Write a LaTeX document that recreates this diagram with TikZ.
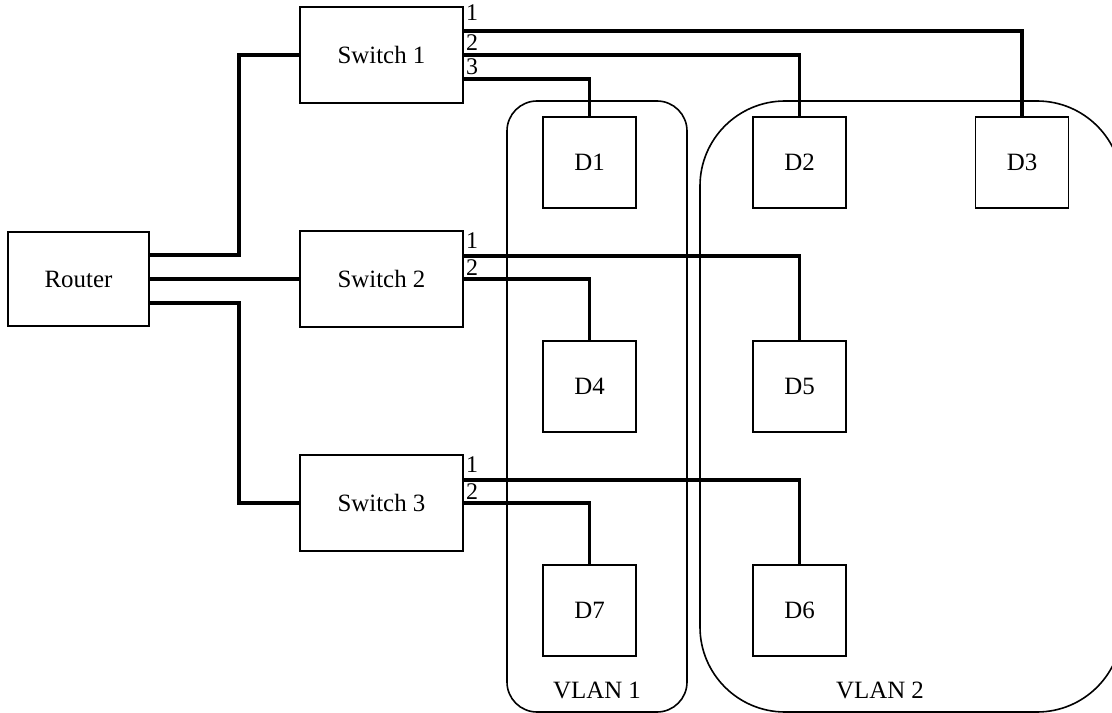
\documentclass[tikz,border=0pt]{standalone}
\usepackage{fontspec}
\setmainfont{Liberation Serif}
\usetikzlibrary{calc}
\begin{document}
\begin{tikzpicture}[x=1bp,y=-1bp,
  box/.style={draw,line width=1.6bp,rectangle,inner sep=0pt,font=\fontsize{25}{29}\selectfont},
  swbox/.style={box,minimum width=163bp,minimum height=96bp},
  dev/.style={box,minimum width=93bp,minimum height=91bp},
  wire/.style={line width=3.6bp},
  vlan/.style={draw,line width=1.6bp},
  port/.style={inner sep=0pt,anchor=west,font=\fontsize{24}{28}\selectfont},
  vlab/.style={inner sep=0pt,font=\fontsize{25}{29}\selectfont}]
\useasboundingbox (0,0) rectangle (1112,713);
\clip (0,0) rectangle (1112,713);
% VLAN areas
\draw[vlan,rounded corners=30bp] (507,101) rectangle (687,712);
\draw[vlan,rounded corners=85bp] (700,101) rectangle (1122,712);
\node[vlab] (v1) at (597,690) {VLAN 1};
\node[vlab] (v2) at (880,690) {VLAN 2};
% nodes
\node[box,minimum width=141bp,minimum height=94bp] (r) at (78.5,279) {Router};
\node[swbox] (s1) at (381.5,55) {Switch 1};
\node[swbox] (s2) at (381.5,279) {Switch 2};
\node[swbox] (s3) at (381.5,503) {Switch 3};
\node[dev] (d1) at (589.5,162.5) {D1};
\node[dev] (d2) at (799.5,162.5) {D2};
\node[dev] (d3) at (1022,162.5) {D3};
\node[dev] (d4) at (589.5,386.5) {D4};
\node[dev] (d5) at (799.5,386.5) {D5};
\node[dev] (d7) at (589.5,610.5) {D7};
\node[dev] (d6) at (799.5,610.5) {D6};
% router links
\draw[wire] ($(r.east)+(0,-24)$) -- ++(89,0) |- (s1.west);
\draw[wire] (r.east) -- (s2.west);
\draw[wire] ($(r.east)+(0,24)$) -- ++(89,0) |- (s3.west);
% switch 1 ports
\draw[wire] ($(s1.east)+(0,-24)$) -| (d3.north);
\draw[wire] (s1.east) -| (d2.north);
\draw[wire] ($(s1.east)+(0,24)$) -| (d1.north);
\node[port] (p11) at ($(s1.east)+(2,-42)$) {1};
\node[port] (p12) at ($(s1.east)+(2,-12)$) {2};
\node[port] (p13) at ($(s1.east)+(2,12)$) {3};
% switch 2 ports
\draw[wire] ($(s2.east)+(0,-23)$) -| (d5.north);
\draw[wire] (s2.east) -| (d4.north);
\node[port] (p21) at ($(s2.east)+(2,-38)$) {1};
\node[port] (p22) at ($(s2.east)+(2,-11)$) {2};
% switch 3 ports
\draw[wire] ($(s3.east)+(0,-23)$) -| (d6.north);
\draw[wire] (s3.east) -| (d7.north);
\node[port] (p31) at ($(s3.east)+(2,-38)$) {1};
\node[port] (p32) at ($(s3.east)+(2,-11)$) {2};
\end{tikzpicture}
\end{document}
